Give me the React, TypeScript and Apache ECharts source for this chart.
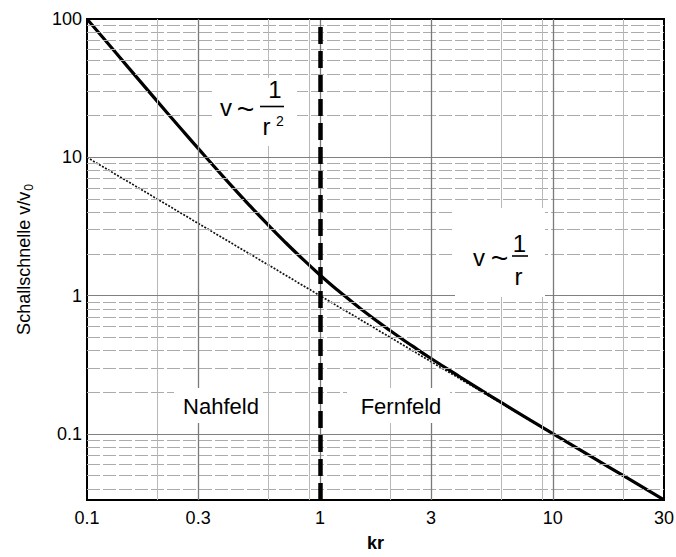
import React, { useEffect, useRef } from 'react';
import * as echarts from 'echarts';

const FONT = '"Liberation Sans", Arial, Helvetica, sans-serif';

// kr sample points
const krValues = [0.1, 0.12, 0.15, 0.2, 0.25, 0.3, 0.4, 0.5, 0.6, 0.7, 0.8, 1, 1.2, 1.5, 2, 2.5, 3, 4, 5, 6, 8, 10, 15, 20, 30];
// Schallschnelle v/v0, solid curve
const velocityValues = [100, 69.9, 44.9, 25.5, 16.5, 11.6, 6.73, 4.47, 3.24, 2.49, 2.0, 1.41, 1.085, 0.801, 0.559, 0.431, 0.351, 0.258, 0.204, 0.169, 0.126, 0.1005, 0.0668, 0.0501, 0.0334];
// far-field asymptote ~1/r, dotted line
const asymptoteValues = [10, 8.33, 6.67, 5, 4, 3.33, 2.5, 2, 1.67, 1.43, 1.25, 1, 0.833, 0.667, 0.5, 0.4, 0.333, 0.25, 0.2, 0.167, 0.125, 0.1, 0.0667, 0.05, 0.0333];

const xTickValues = [0.1, 0.3, 1, 3, 10, 30];
const xTickLabels = ['0.1', '0.3', '1', '3', '10', '30'];
const yTickValues = [0.1, 1, 10, 100];
const yTickLabels = ['0.1', '1', '10', '100'];

const xMajorGrid = [0.3, 1, 3, 10];
const xMinorGrid = [0.2, 0.6, 0.9, 2, 6, 9, 20];
const yMajorGrid = [0.1, 1, 10];
const yMinorGrid = [0.04, 0.05, 0.06, 0.07, 0.08, 0.09, 0.2, 0.3, 0.4, 0.5, 0.6, 0.7, 0.8, 0.9, 2, 3, 4, 5, 6, 7, 8, 9, 20, 30, 40, 50, 60, 70, 80, 90];
const boundaryKr = 1;

const xMin = 0.1, xMax = 30, yMin = 0.0333, yMax = 100;

const labelStyle = { color: '#000', fontFamily: FONT, fontSize: 18 };

export default function App() {
  const ref = useRef<HTMLDivElement>(null);
  useEffect(() => {
    document.body.style.margin = '0';
    const chart = echarts.init(ref.current!, null, { renderer: 'svg' });

    const curve = krValues.map((k, i) => [k, velocityValues[i]]);
    const asym = krValues.map((k, i) => [k, asymptoteValues[i]]);

    const minorLines = [
      ...yMinorGrid.map((v) => ({ yAxis: v, lineStyle: { color: '#ababab', width: 1, type: [13, 3] } })),
      ...xMinorGrid.map((v) => ({ xAxis: v, lineStyle: { color: '#b8b8b8', width: 1, type: 'solid' } })),
    ];
    const majorLines = [
      ...yMajorGrid.map((v) => ({ yAxis: v, lineStyle: { color: '#808080', width: 1.2, type: 'solid' } })),
      ...xMajorGrid.map((v) => ({ xAxis: v, lineStyle: { color: '#7a7a7a', width: 1.3, type: 'solid' } })),
    ];
    const tickLabelLines = [
      ...xTickValues.map((v, i) => ({
        xAxis: v,
        lineStyle: { color: 'rgba(0,0,0,0)', width: 0 },
        label: { show: true, position: 'start', distance: 9, formatter: xTickLabels[i], ...labelStyle },
      })),
      ...yTickValues.map((v, i) => ({
        yAxis: v,
        lineStyle: { color: 'rgba(0,0,0,0)', width: 0 },
        label: { show: true, position: 'start', distance: 5, formatter: yTickLabels[i], ...labelStyle },
      })),
    ];

    const txt = (text: string, x: number, y: number, fontSize: number) => ({
      type: 'text',
      x,
      y,
      z: 20,
      style: { text, fontSize, fontFamily: FONT, fill: '#000', align: 'center', verticalAlign: 'middle' },
    });
    const box = (x: number, y: number, w: number, h: number) => ({
      type: 'rect', z: 15, shape: { x, y, width: w, height: h }, style: { fill: '#fff' },
    });
    const bar = (x1: number, x2: number, y: number) => ({
      type: 'line', z: 20, shape: { x1, y1: y, x2, y2: y }, style: { stroke: '#000', lineWidth: 1.6 },
    });

    chart.setOption({
      animation: false,
      grid: { left: 87, top: 19, right: 12, bottom: 50, show: true, borderColor: '#000', borderWidth: 2, backgroundColor: '#fff' },
      xAxis: {
        type: 'log',
        logBase: 10,
        min: xMin,
        max: xMax,
        name: 'kr',
        nameLocation: 'middle',
        nameGap: 34,
        nameTextStyle: { color: '#000', fontFamily: FONT, fontSize: 18, fontWeight: 'bold' },
        axisLine: { show: true, lineStyle: { color: '#000', width: 2 } },
        axisTick: { show: false },
        axisLabel: { show: false },
        splitLine: { show: false },
        minorTick: { show: false },
      },
      yAxis: {
        type: 'log',
        logBase: 10,
        min: yMin,
        max: yMax,
        name: '{a|Schallschnelle v/v}{b|0}',
        nameLocation: 'middle',
        nameRotate: 90,
        nameGap: 52,
        nameTextStyle: {
          color: '#000',
          rich: {
            a: { fontFamily: FONT, fontSize: 18, color: '#000' },
            b: { fontFamily: FONT, fontSize: 12, color: '#000', padding: [10, 0, 0, 1] },
          },
        },
        axisLine: { show: true, lineStyle: { color: '#000', width: 2 } },
        axisTick: { show: false },
        axisLabel: { show: false },
        splitLine: { show: false },
      },
      series: [
        {
          type: 'line', data: [], z: 1, silent: true,
          markLine: { silent: true, symbol: ['none', 'none'], label: { show: false }, data: minorLines },
        },
        {
          type: 'line', data: [], z: 1, silent: true,
          markLine: { silent: true, symbol: ['none', 'none'], label: { show: false }, data: majorLines },
        },
        {
          type: 'line', data: [], z: 2, silent: true,
          markLine: { silent: true, symbol: ['none', 'none'], label: { show: false }, data: tickLabelLines },
        },
        {
          name: '1/r', type: 'line', data: asym, z: 3, symbol: 'none', smooth: false,
          lineStyle: { color: '#111', width: 1.7, type: [2, 1.5] },
        },
        {
          name: 'v/v0', type: 'line', data: curve, z: 4, symbol: 'none', smooth: true,
          lineStyle: { color: '#000', width: 3.2 },
        },
        {
          type: 'line', data: [], z: 5, silent: true,
          markLine: {
            silent: true, symbol: ['none', 'none'], label: { show: false },
            data: [{ xAxis: boundaryKr, lineStyle: { color: '#000', width: 4.5, type: [17, 7] } }],
          },
        },
      ],
      graphic: [
        box(213, 78, 84, 68),
        txt('v', 226, 107, 24),
        txt('~', 245.5, 108, 30),
        bar(260, 284, 106.5),
        txt('1', 275, 89, 24),
        txt('r', 266.5, 126, 24),
        txt('2', 280, 121, 14),

        box(455, 208, 90, 89),
        txt('v', 479, 257, 24),
        txt('~', 499.5, 257, 30),
        bar(512, 528, 256),
        txt('1', 519.5, 243.5, 24),
        txt('r', 518.5, 276.5, 24),

        box(174, 388, 88, 35),
        txt('Nahfeld', 221, 406, 22),
        box(347, 388, 103, 35),
        txt('Fernfeld', 401, 406, 22),
      ],
    });
    return () => chart.dispose();
  }, []);
  return <div ref={ref} style={{ width: 676, height: 557 }} />;
}
